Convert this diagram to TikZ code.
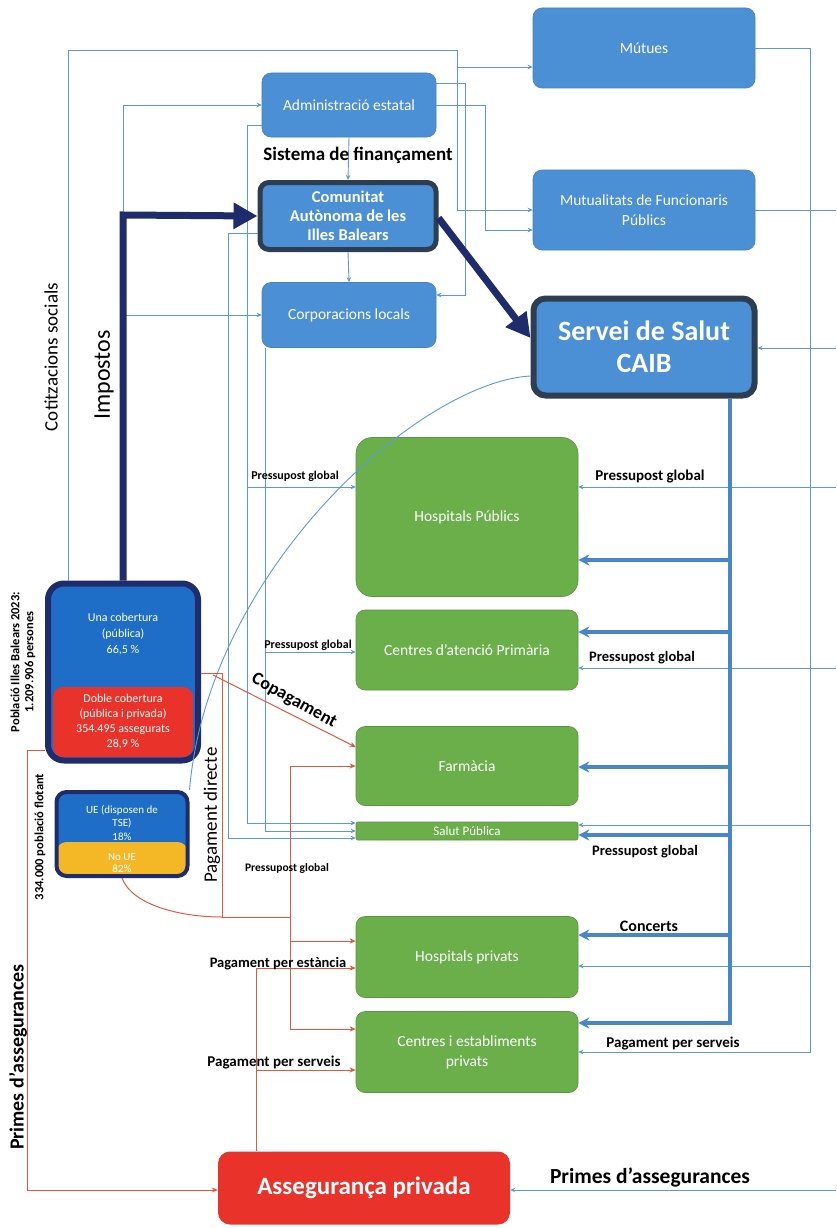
\documentclass[tikz,border=0pt]{standalone}
\usepackage{fontspec}
\setmainfont{Carlito}
\usetikzlibrary{arrows.meta,calc}
\definecolor{boxblue}{RGB}{75,143,213}
\definecolor{boxgreen}{RGB}{106,175,74}
\definecolor{linblue}{RGB}{91,155,213}
\definecolor{thkblue}{RGB}{72,134,204}
\definecolor{popblue}{RGB}{30,110,200}
\definecolor{popred}{RGB}{232,50,42}
\definecolor{popyel}{RGB}{244,184,38}
\definecolor{navyc}{RGB}{31,44,107}
\definecolor{darkedge}{RGB}{46,62,82}
\definecolor{redline}{RGB}{226,88,58}
\newcommand\fz[2]{\fontsize{#1}{#2}\selectfont}
\begin{document}
\begin{tikzpicture}[x=1pt,y=-1pt,
  bbox/.style={rounded corners=9pt, align=center, text=white, inner sep=2pt, font=\fz{15.5}{20}},
  bluebox/.style={bbox, fill=boxblue, draw=boxblue!90!black, line width=0.6pt},
  greenbox/.style={bbox, fill=boxgreen, draw=boxgreen!85!black, line width=0.6pt},
  heavy/.style={draw=darkedge, line width=5pt},
  ln/.style={draw=linblue, line width=0.9pt},
  lnarr/.style={ln, -{Stealth[length=5pt,width=4.5pt]}},
  thk/.style={draw=thkblue, line width=3.2pt, -{Stealth[length=11pt,width=11pt]}},
  rl/.style={draw=redline, line width=1pt},
  rlarr/.style={rl, -{Stealth[length=6pt,width=5pt]}},
  nav/.style={draw=navyc, line width=7pt, -{Triangle[length=24pt,width=25pt]}},
  lab/.style={font=\bfseries\fz{15}{17}, text=black, inner sep=1pt},
  slab/.style={font=\bfseries\fz{12}{14}, text=black, inner sep=1pt}
]
\fill[white] (0,0) rectangle (836,1228);
\useasboundingbox (0,0) rectangle (836,1228);

% ---------- blue boxes ----------
\node[bluebox, minimum width=222pt, minimum height=80pt] (mut) at (644,48) {Mútues};
\node[bluebox, minimum width=174pt, minimum height=64pt] (adm) at (349,105) {Administració estatal};
\node[bluebox, heavy, minimum width=176pt, minimum height=67pt, font=\bfseries\fz{16.5}{19}] (com) at (348,216) {Comunitat\\Autònoma de les\\Illes Balears};
\node[bluebox, minimum width=174pt, minimum height=65pt] (corp) at (349,315) {Corporacions locals};
\node[bluebox, minimum width=222pt, minimum height=80pt] (mutf) at (644,210) {Mutualitats de Funcionaris\\Públics};
\node[bluebox, heavy, line width=6pt, minimum width=221pt, minimum height=97pt, rounded corners=12pt, font=\bfseries\fz{28}{32}] (ssal) at (644,347) {Servei de Salut\\CAIB};

% ---------- green boxes ----------
\node[greenbox, rounded corners=16pt, minimum width=222pt, minimum height=159pt] (hpub) at (467,517) {Hospitals Públics};
\node[greenbox, minimum width=222pt, minimum height=80pt] (cap) at (467,650) {Centres d’atenció Primària};
\node[greenbox, minimum width=222pt, minimum height=79pt] (farm) at (467,766) {Farmàcia};
\node[greenbox, rounded corners=2pt, minimum width=222pt, minimum height=18pt, inner sep=0pt, font=\fz{13}{14}] (sp) at (467,831) {Salut Pública};
\node[greenbox, minimum width=222pt, minimum height=81pt] (hpriv) at (467,957) {Hospitals privats};
\node[greenbox, minimum width=222pt, minimum height=81pt] (cpriv) at (467,1052) {Centres i establiments\\privats};

% ---------- private insurance ----------
\node[bbox, fill=popred, rounded corners=12pt, minimum width=292pt, minimum height=73pt, font=\bfseries\fz{25}{28}] (asp) at (364,1188) {Assegurança privada};

% ---------- population boxes ----------
\node[fill=popblue, draw=navyc, line width=6pt, rounded corners=16pt, minimum width=150pt, minimum height=177pt] (pop) at (123,672) {};
\node[bbox, fill=popred, rounded corners=10pt, minimum width=140pt, minimum height=70pt, font=\fz{12}{15}] (dob) at (123,722) {Doble cobertura\\(pública i privada)\\354.495 assegurats\\28,9 \%};
\node[bbox, font=\fz{12}{16}] (una) at (123,634) {Una cobertura\\(pública)\\66,5 \%};
\node[draw=navyc, line width=4pt, fill=popblue, rounded corners=10pt, minimum width=131pt, minimum height=84pt,
  path picture={\fill[popyel] ([yshift=-8pt]path picture bounding box.west) rectangle (path picture bounding box.south east);}] (ue) at (122,834) {};
\node[bbox, font=\fz{11}{13.5}] (uet) at (122,823) {UE (disposen de\\TSE)\\18\%};
\node[bbox, font=\fz{11}{12.5}] (nue) at (122,863) {No UE\\82\%};

% ---------- right edge coordinates ----------
\coordinate (e1) at (836,210);
\coordinate (e2) at (836,348);
\coordinate (e3) at (836,487);
\coordinate (e4) at (836,668);
\coordinate (e5) at (836,1190);

% ---------- thin blue connectors ----------
\draw[lnarr] (68,0 |- pop.north) -- (68,50) -- (457,50) -- (457,210) -- (mutf.west);
\draw[lnarr] (457,67) -- (mut.west |- 0,67);
\draw[lnarr] (adm.east |- 0,83) -- (465,83) -- (465,295) -- (corp.east |- 0,295);
\draw[lnarr] (adm.east) -- (485,105) -- (485,230) -- (mutf.west |- 0,230);
\draw[lnarr] (adm.south) -- (com.north);
\draw[lnarr] (com.south) -- (corp.north);
\draw[lnarr] (123,215) -- (123,105) -- (adm.west);
\draw[lnarr] (123,315) -- (corp.west);
\draw[lnarr] (adm.west |- 0,125) -- (247,125) -- (247,823) -- (sp.west |- 0,823);
\draw[lnarr] (247,487) -- (hpub.west |- 0,487);
\draw[lnarr] (com.west |- 0,233) -- (228,233) -- (228,838) -- (sp.west |- 0,838);
\draw[lnarr] (265,0 |- corp.south) -- (265,831) -- (sp.west);
\draw[lnarr] (265,652) -- (cap.west |- 0,652);
\draw[lnarr] (mut.east) -- (810,48) -- (810,1052) -- (cpriv.east |- 0,1052);
\draw[lnarr] (810,966) -- (hpriv.east |- 0,966);
\draw[lnarr] (810,825) -- (sp.east |- 0,825);
\draw[ln] (mutf.east) -- (e1);
\draw[lnarr] (e2) -- (ssal.east |- 0,348);
\draw[lnarr] (e3) -- (hpub.east |- 0,487);
\draw[lnarr] (e4) -- (cap.east |- 0,668);
\draw[lnarr] (e5) -- (asp.east |- 0,1190);
\draw[ln] (ssal.west |- 0,376) .. controls (420,382) and (208,570) .. (ue.north east);

% ---------- thick blue (Servei de Salut) ----------
\draw[thk] (730,0 |- ssal.south) -- (730,1023) -- (cpriv.east |- 0,1023);
\draw[thk] (730,560) -- (hpub.east |- 0,560);
\draw[thk] (730,632) -- (cap.east |- 0,632);
\draw[thk] (730,767) -- (farm.east |- 0,767);
\draw[thk] (730,835) -- (sp.east |- 0,835);
\draw[thk] (730,935) -- (hpriv.east |- 0,935);

% ---------- navy thick arrows ----------
\draw[nav] (123,0 |- pop.north) -- (123,215) -- (com.west);
\draw[nav] ([yshift=-2pt]com.east) -- (ssal.west |- 0,338);

% ---------- red connectors ----------
\draw[rl] (pop.east |- 0,673) -- (222,673) -- (222,917) -- (290,917);
\draw[rlarr] (213,675) -- (farm.west |- 0,747);
\draw[rl] (ue.south) .. controls (132,905) and (180,917) .. (222,917);
\draw[rlarr] (290,917) -- (290,766) -- (farm.west |- 0,766);
\draw[rlarr] (290,917) -- (290,1029) -- (cpriv.west |- 0,1029);
\draw[rlarr] (290,941) -- (hpriv.west |- 0,941);
\draw[rlarr] (256,0 |- asp.north) -- (256,968) -- (hpriv.west |- 0,968);
\draw[rlarr] (256,1070) -- (cpriv.west |- 0,1070);
\draw[rlarr] (pop.west |- 0,750) -- (27,750) -- (27,1190) -- (asp.west |- 0,1190);

% ---------- labels ----------
\node[lab, font=\bfseries\fz{19}{21}] (lsf) at (358,155) {Sistema de finançament};
\node[lab, font=\fz{19}{21}, rotate=90] (lcot) at (51,357) {Cotitzacions socials};
\node[lab, font=\fz{24}{26}, rotate=90] (limp) at (104,375) {Impostos};
\node[slab, font=\bfseries\fz{12.5}{14}, rotate=90, align=center] (lpob) at (23,662) {Població Illes Balears 2023:\\1.209.906 persones};
\node[slab, font=\bfseries\fz{12.5}{14}, rotate=90] (lflo) at (40,837) {334.000 població flotant};
\node[lab, font=\fz{19}{21}, rotate=90] (ldir) at (212,815) {Pagament directe};
\node[lab, font=\bfseries\fz{20}{22}, rotate=90] (lpri) at (18,1057) {Primes d’assegurances};
\node[lab, font=\bfseries\fz{18}{20}, rotate=-29] (lcop) at (294,701) {Copagament};
\node[slab] (lp1) at (295,476) {Pressupost global};
\node[slab] (lp2) at (308,645) {Pressupost global};
\node[slab, font=\bfseries\fz{11.5}{13}] (lp3) at (287,868) {Pressupost global};
\node[lab] (lp4) at (650,477) {Pressupost global};
\node[lab, font=\bfseries\fz{14.5}{16}] (lp5) at (642,658) {Pressupost global};
\node[lab, font=\bfseries\fz{14.5}{16}] (lp6) at (645,852) {Pressupost global};
\node[lab, font=\bfseries\fz{16}{18}] (lcon) at (649,926) {Concerts};
\node[lab, font=\bfseries\fz{15}{17}] (lps1) at (673,1043) {Pagament per serveis};
\node[lab, font=\bfseries\fz{14.5}{16}] (lest) at (278,964) {Pagament per estància};
\node[lab, font=\bfseries\fz{15}{17}] (lps2) at (274,1062) {Pagament per serveis};
\node[lab, font=\bfseries\fz{21.5}{24}] (lpab) at (650,1177) {Primes d’assegurances};
\end{tikzpicture}
\end{document}
